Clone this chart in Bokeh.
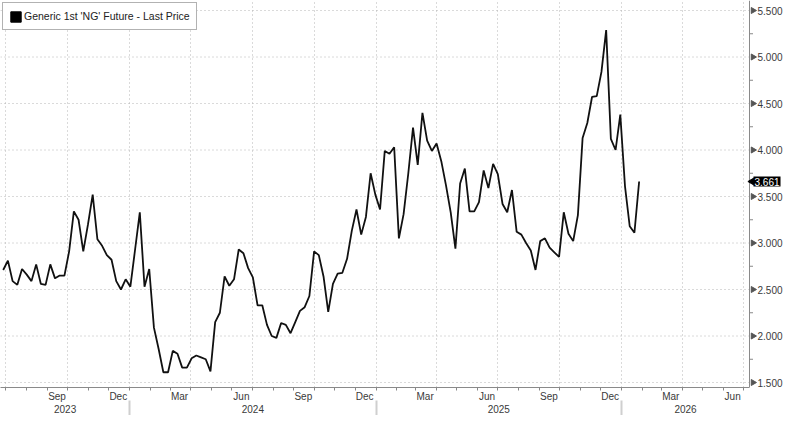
import math
import pandas as pd
from bokeh.plotting import figure
from bokeh.models import (Range1d, DatetimeAxis, FixedTicker, DatetimeTickFormatter,
                          Legend, LegendItem, Label)
from bokeh.core.properties import value
from bokeh.embed import file_html
from bokeh.resources import INLINE

# ---- data (weekly) ----
series_name = "Generic 1st 'NG' Future - Last Price"
last_date = "2026-01-27"
prices = [2.71, 2.81, 2.59, 2.55, 2.72, 2.66, 2.59, 2.77, 2.56, 2.55,
          2.77, 2.62, 2.65, 2.65, 2.91, 3.34, 3.25, 2.91, 3.20, 3.52,
          3.04, 2.97, 2.87, 2.82, 2.59, 2.50, 2.61, 2.53, 2.93, 3.33,
          2.53, 2.72, 2.09, 1.86, 1.61, 1.61, 1.84, 1.81, 1.66, 1.66,
          1.76, 1.79, 1.77, 1.75, 1.62, 2.15, 2.25, 2.64, 2.54, 2.61,
          2.93, 2.89, 2.73, 2.63, 2.33, 2.33, 2.12, 2.00, 1.98, 2.14,
          2.12, 2.03, 2.15, 2.27, 2.31, 2.43, 2.91, 2.87, 2.64, 2.26,
          2.56, 2.67, 2.68, 2.83, 3.13, 3.36, 3.09, 3.28, 3.75, 3.52,
          3.36, 3.99, 3.96, 4.03, 3.05, 3.31, 3.75, 4.24, 3.84, 4.40,
          4.10, 3.99, 4.07, 3.88, 3.62, 3.33, 2.94, 3.64, 3.80, 3.34,
          3.34, 3.44, 3.78, 3.59, 3.85, 3.74, 3.42, 3.33, 3.57, 3.12,
          3.09, 3.00, 2.92, 2.71, 3.02, 3.05, 2.95, 2.90, 2.85, 3.33,
          3.10, 3.02, 3.30, 4.13, 4.29, 4.57, 4.58, 4.84, 5.29, 4.12,
          4.00, 4.38, 3.61, 3.18, 3.11, 3.661]
dates = pd.date_range(end=last_date, periods=len(prices), freq="7D")

month_label_dates = ["2023-09-15", "2023-12-15", "2024-03-15", "2024-06-15", "2024-09-15",
                     "2024-12-15", "2025-03-15", "2025-06-15", "2025-09-15", "2025-12-15",
                     "2026-03-15", "2026-06-15"]
year_labels = [2023, 2024, 2025, 2026]
y_levels = [1.5, 2.0, 2.5, 3.0, 3.5, 4.0, 4.5, 5.0, 5.5]
y_tick_labels = ["1.500", "2.000", "2.500", "3.000", "3.500", "4.000", "4.500", "5.000", "5.500"]
y_minor_levels = [1.75, 2.25, 2.75, 3.25, 3.75, 4.25, 4.75, 5.25]

x_start = pd.Timestamp("2023-06-23")
x_end = pd.Timestamp("2026-07-10")      # position of the value axis

FONT = "Liberation Sans"
TXT = "#3a3a3a"
GRID = "#b4b4b4"

FIG_W, FIG_H = 784, 415
AXIS_PX = 749                 # frame pixels between x_start and the value axis
BOTTOM = 28                   # room for the two rows of date labels
TOP_PX, PX_PER_UNIT = 10, 93.0
frame_h = FIG_H - BOTTOM
y_top = 5.5 + TOP_PX / PX_PER_UNIT
y_bottom = 5.5 - (frame_h - TOP_PX) / PX_PER_UNIT
px_per_day = AXIS_PX / (x_end - x_start).days


def shift(px):
    return x_end + pd.Timedelta(days=px / px_per_day)


def ms(t):
    return pd.Timestamp(t).value // 10**6


frame_end = shift(FIG_W - AXIS_PX)

p = figure(width=FIG_W, height=FIG_H, x_axis_type="datetime", y_axis_location=None,
           x_range=Range1d(x_start, frame_end), y_range=Range1d(y_bottom, y_top),
           output_backend="svg", toolbar_location=None,
           min_border_left=0, min_border_top=0, min_border_right=0, min_border_bottom=BOTTOM,
           background_fill_color="white", border_fill_color="white")
p.outline_line_color = None

month_starts = pd.date_range("2023-07-01", "2026-07-01", freq="MS")
quarter_starts = [d for d in month_starts if d.month in (1, 4, 7, 10)]
year_bounds = [pd.Timestamp(f"{y}-01-01") for y in year_labels[1:]]
year_centers = []
for y in year_labels:
    a = max(pd.Timestamp(f"{y}-01-01"), x_start)
    b = min(pd.Timestamp(f"{y + 1}-01-01"), x_end)
    year_centers.append(a + (b - a) / 2)


def fmt(f):
    return DatetimeTickFormatter(milliseconds=f, seconds=f, minsec=f, minutes=f, hourmin=f,
                                 hours=f, days=f, months=f, years=f)


# x axis 1: month labels
xa = p.xaxis[0]
xa.ticker = FixedTicker(ticks=[ms(d) for d in month_label_dates],
                        minor_ticks=[ms(d) for d in month_starts])
xa.formatter = fmt("%b")
xa.bounds = (ms(x_start), ms(x_end))
xa.major_tick_out = 0
xa.major_tick_in = 0
xa.minor_tick_out = 3
xa.minor_tick_in = 0
xa.minor_tick_line_color = "#888888"
xa.axis_line_color = "#8a8a8a"
xa.major_label_standoff = 0
xa.major_label_text_font = FONT
xa.major_label_text_font_size = "10px"
xa.major_label_text_color = TXT

# x axis 2: year labels with separators
xa2 = DatetimeAxis(ticker=FixedTicker(ticks=[ms(d) for d in year_centers],
                                      minor_ticks=[ms(d) for d in year_bounds]),
                   formatter=fmt("%Y"))
xa2.axis_line_color = None
xa2.major_tick_out = 0
xa2.major_tick_in = 0
xa2.minor_tick_in = 4
xa2.minor_tick_out = 13
xa2.minor_tick_line_color = "#cfcfcf"
xa2.minor_tick_line_width = 2
xa2.major_label_standoff = -13
xa2.major_label_text_font = FONT
xa2.major_label_text_font_size = "10px"
xa2.major_label_text_color = TXT
p.add_layout(xa2, "below")

# vertical grid at quarter starts
p.xgrid[0].ticker = FixedTicker(ticks=[ms(d) for d in quarter_starts])
p.xgrid[0].grid_line_color = GRID
p.xgrid[0].grid_line_dash = "1 3"
for g in p.ygrid:
    g.visible = False

# horizontal grid, stopping at the value axis
n = len(y_levels)
p.segment(x0=[x_start] * n, x1=[x_end] * n, y0=y_levels, y1=y_levels,
          line_color=GRID, line_dash="1 3", line_width=1)

# value axis on the right (drawn inside the frame)
p.segment(x0=[x_end], x1=[x_end], y0=[y_bottom], y1=[y_top], line_color="#8a8a8a", line_width=1)
p.scatter(x=[shift(3.5)] * n, y=y_levels, marker="triangle", angle=-math.pi / 2,
          size=6, color="#555555")
p.scatter(x=[shift(1.5)] * len(y_minor_levels), y=y_minor_levels, marker="dash",
          size=4, line_color="#888888", line_width=1)
p.text(x=[shift(8)] * n, y=y_levels, text=y_tick_labels, text_baseline="middle",
       text_align="left", text_font=value(FONT), text_font_size="10px", text_color=TXT)

# series
p.line(dates, prices, line_color="#111111", line_width=1.8)

# legend with square swatch
sq = p.quad(left=[x_start], right=[x_start], bottom=[0.0], top=[0.1],
            fill_color="black", line_color="black")
legend = Legend(items=[LegendItem(label=series_name, renderers=[sq])],
                location="top_left", margin=2, padding=6, spacing=0,
                border_line_color="#666666", border_line_width=1,
                background_fill_color="white", background_fill_alpha=1,
                label_text_font=FONT, label_text_font_size="10.5px", label_text_color="#222222",
                glyph_width=13, glyph_height=13, label_standoff=2, label_height=14)
p.add_layout(legend)

# last price tag
p.scatter(x=[shift(3)], y=[prices[-1]], marker="triangle", angle=math.pi / 2,
          size=8, color="black")
tag = Label(x=shift(4), y=prices[-1], text=f"{prices[-1]:.3f}",
            text_color="white", text_font=FONT, text_font_size="10px",
            text_baseline="middle", text_align="left",
            background_fill_color="black", padding=1)
p.add_layout(tag)

open("out.html", "w").write(file_html(p, INLINE))
